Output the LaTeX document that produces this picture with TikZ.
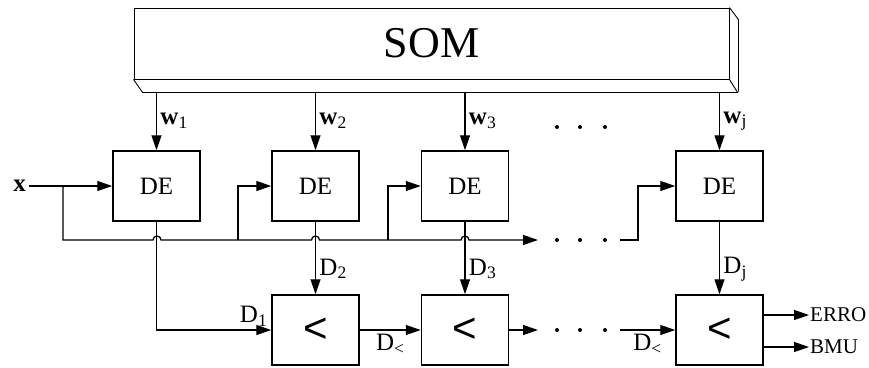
\documentclass[tikz,border=0pt]{standalone}
\usepackage{fontspec}
\setmainfont{Liberation Serif}
\newfontfamily\cmpfont{Liberation Sans}
\usepackage{tikz}
\usetikzlibrary{arrows.meta, calc}
\tikzset{
  debox/.style={draw, line width=1.5pt, minimum width=87pt, minimum height=70pt,
                inner sep=0pt, font=\fontsize{25}{30}\selectfont},
  cmpbox/.style={debox, font=\cmpfont\fontsize{42}{46}\selectfont},
  sombox/.style={draw, line width=0.9pt, minimum width=595pt, minimum height=71pt,
                 inner sep=0pt, font=\fontsize{44}{50}\selectfont},
  wire/.style={line width=1.3pt},
  arr/.style={wire, -{Triangle[length=15pt, width=10pt]}},
  lbl/.style={font=\fontsize{25}{30}\selectfont},
  outlbl/.style={font=\fontsize{21}{24}\selectfont, anchor=west, inner sep=1pt},
}

\begin{document}
\begin{tikzpicture}[x=1pt, y=-1pt]

  \useasboundingbox (0,0) rectangle (869,367);

  % SOM block with its bevel
  \node[sombox] (som) at (431.5,43.5) {SOM};
  \draw[line width=0.9pt] (som.south west) -- ++(9,13) -- ++(595,0) -- (som.south east);
  \draw[line width=0.9pt] (som.north east) -- ++(9,12) -- ++(0,72);
  \coordinate (sombase) at (0,92);

  % distance units
  \node[debox] (de1) at (156.5,186) {DE};
  \node[debox] (de2) at (315.5,186) {DE};
  \node[debox] (de3) at (465,186) {DE};
  \node[debox] (dej) at (719.5,186) {DE};

  % comparators
  \node[cmpbox] (cmp2) at (315.5,330) {<};
  \node[cmpbox] (cmp3) at (465,330) {<};
  \node[cmpbox] (cmpj) at (719.5,330) {<};

  % weights
  \draw[arr] (de1.north |- sombase) -- node[right, lbl]{\textbf{w}\textsubscript{1}} (de1.north);
  \draw[arr] (de2.north |- sombase) -- node[right, lbl]{\textbf{w}\textsubscript{2}} (de2.north);
  \draw[arr] (de3.north |- sombase) -- node[right, lbl]{\textbf{w}\textsubscript{3}} (de3.north);
  \draw[arr] (dej.north |- sombase) -- node[right, lbl]{\textbf{w}\textsubscript{j}} (dej.north);

  % input x and bus
  \node[lbl] (x) at (19.5,186) {\textbf{x}};
  \draw[arr] (x) -- (de1.west);
  \coordinate (split) at (63,186);
  \coordinate (busend) at (538,240);
  \draw[arr] (split) -- (63,240) -- (153,240) arc[start angle=180, end angle=360, radius=4]
    -- (311.5,240) arc[start angle=180, end angle=360, radius=4]
    -- (461,240) arc[start angle=180, end angle=360, radius=4] -- (busend);
  \coordinate (tap2) at (238,240);
  \coordinate (tap3) at (388,240);
  \coordinate (tapj) at (620,240);
  \draw[arr] (tap2) |- (de2.west);
  \draw[arr] (tap3) |- (de3.west);
  \draw[arr] (tapj) -- ++(18,0) |- (dej.west);

  % distances
  \draw[arr] (de1.south) |- node[pos=1, above left, lbl]{D\textsubscript{1}} (cmp2.west);
  \draw[arr] (de2.south) -- node[pos=0.65, right, lbl]{D\textsubscript{2}} (cmp2.north);
  \draw[arr] (de3.south) -- node[pos=0.65, right, lbl]{D\textsubscript{3}} (cmp3.north);
  \draw[arr] (dej.south) -- node[pos=0.65, right, lbl]{D\textsubscript{j}} (cmpj.north);

  % comparator chain
  \coordinate (chainend) at (538,330);
  \coordinate (chainin) at (620,330);
  \draw[arr] (cmp2) -- node[below, lbl]{D\textsubscript{<}} (cmp3);
  \draw[arr] (cmp3) -- (chainend);
  \draw[arr] (chainin) -- node[below, lbl]{D\textsubscript{<}} (cmpj);

  % outputs
  \node[outlbl] (erro) at (809,315) {ERRO};
  \node[outlbl] (bmu) at (809,347) {BMU};
  \draw[arr] (cmpj.east |- erro) -- (erro);
  \draw[arr] (cmpj.east |- bmu) -- (bmu);

  % ellipsis dots
  \foreach \px in {557,580,605} {
    \fill (\px,127) circle (2);
    \fill (\px,240) circle (2);
    \fill (\px,330) circle (2);
  }

\end{tikzpicture}
\end{document}
